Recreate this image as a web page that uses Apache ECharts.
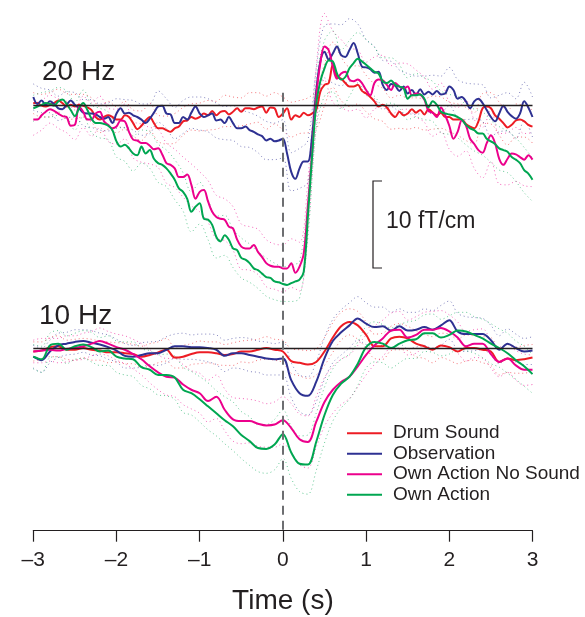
<!DOCTYPE html>
<html>
<head>
<meta charset="utf-8">
<script src="https://cdn.jsdelivr.net/npm/echarts@6/dist/echarts.min.js"></script>
<style>
html, body { margin: 0; padding: 0; background: #fff; }
#main { width: 585px; height: 617px; }
</style>
</head>
<body>
<div id="main"></div>
<script>
// names / colours
var names = ['Drum Sound', 'Observation', 'Own Action No Sound', 'Own Action'];
var colors = ['#ED1C24', '#2E3192', '#EC008C', '#00A651'];
var xTicks = [-3, -2, -1, 0, 1, 2, 3];

// time grids: 20 Hz traces every 0.05 s, 10 Hz traces (and all CI) every 0.1 s
var t20 = [];
for (var i = 0; i <= 120; i++) t20.push(+(-3 + i * 0.05).toFixed(2));
var t10 = [];
for (var i = 0; i <= 60; i++) t10.push(+(-3 + i * 0.1).toFixed(1));

// 20 Hz means (fT/cm)
var drum20 = [0.3,0.3,0.0,-0.1,0.1,0.3,0.6,0.3,-0.1,0.1,-0.1,0.1,0.0,-0.2,-0.5,-1.3,-1.6,-1.3,-1.1,-1.3,-1.6,-1.6,-1.1,-1.3,-2.0,-2.7,-2.3,-1.7,-1.3,-2.0,-2.6,
  -2.6,-2.8,-3.0,-2.6,-2.4,-1.8,-1.7,-1.3,-1.5,-1.3,-0.9,-1.1,-0.6,-1.1,-0.7,-0.6,-1.0,-0.7,-0.3,-0.7,-0.3,-0.3,-0.4,-0.2,-0.1,-0.8,-0.2,-0.3,-1.3,-0.9,
  -0.3,-1.6,-1.1,-1.3,-0.8,-1.1,-0.9,-0.5,1.6,2.4,2.6,4.7,3.3,3.1,2.6,2.2,2.2,2.4,1.7,1.4,1.0,0.5,-0.1,0.1,-0.2,-0.9,-1.3,-0.7,-1.1,-0.9,
  -0.4,-0.8,-0.5,-1.0,-0.4,-0.8,-1.1,-0.8,-1.3,-1.3,-1.6,-1.6,-1.6,-2.1,-2.4,-2.6,-1.8,-0.3,-0.1,-0.3,-1.1,-1.5,-2.0,-2.5,-2.2,-1.7,-1.6,-1.8,-2.2,-2.4];
var obs20 = [1.0,0.2,0.6,0.1,0.5,0.2,-0.3,-0.4,0.1,0.6,0.1,-0.3,-0.8,-0.9,-0.9,-1.0,-1.3,-1.5,-1.3,-2.0,-0.9,-0.3,-0.9,-0.8,-1.1,-1.3,-1.6,-2.0,-1.5,-0.8,-0.1,
  0.0,-0.9,-1.0,-2.0,-2.0,-1.3,-1.6,-0.8,-0.1,-0.9,-1.3,-1.1,-0.9,-1.7,-1.6,-2.0,-1.3,-2.0,-2.6,-2.6,-2.4,-2.8,-3.0,-3.3,-3.5,-4.0,-3.8,-4.1,-4.0,-3.8,
  -5.5,-7.6,-8.4,-7.2,-6.4,-6.4,-3.6,1.6,5.1,6.2,5.3,6.0,6.8,5.8,5.6,6.4,7.2,6.0,4.5,4.4,4.2,3.8,3.9,2.4,1.8,2.5,2.3,1.7,2.2,1.4,
  1.8,1.2,1.9,1.3,1.6,1.3,1.7,1.3,1.4,2.2,1.8,0.8,1.0,0.5,-0.3,0.5,0.8,0.3,-0.5,-1.3,-1.8,-0.9,0.0,-0.7,-1.2,-1.5,-0.9,0.5,-0.2,-1.3];
var noSound20 = [-1.6,-1.6,-1.1,-0.7,-0.4,-0.6,-0.9,-1.2,-1.3,-2.3,-2.2,-0.1,-0.7,-1.6,-1.6,-0.9,-0.7,-1.8,-2.2,-2.6,-2.4,-1.7,-1.8,-3.0,-3.9,-4.0,-4.3,-4.3,-4.6,-5.0,-4.9,
  -5.6,-6.6,-6.8,-7.2,-8.2,-8.2,-7.9,-9.1,-10.7,-9.9,-9.7,-11.0,-12.2,-12.8,-13.0,-13.1,-13.9,-14.1,-15.4,-16.2,-16.4,-16.4,-16.0,-16.8,-17.4,-18.1,-18.4,-18.5,-18.5,-18.7,
  -18.7,-18.1,-19.2,-18.5,-17.0,-11.6,-5.5,1.0,4.9,6.8,6.4,4.5,3.1,3.7,3.9,3.0,2.8,3.0,2.6,1.8,1.2,2.6,3.0,2.9,2.4,1.8,2.6,2.2,2.0,2.2,
  1.2,1.4,1.3,0.7,-0.6,-0.8,-1.3,-0.2,-1.1,-2.3,-3.8,-3.0,-1.7,-2.3,-3.8,-4.4,-5.1,-5.4,-4.3,-3.4,-4.3,-6.1,-6.8,-6.1,-5.5,-5.6,-5.9,-6.2,-5.7,-6.2];
var own20 = [-0.3,-0.1,0.1,0.3,0.2,0.0,0.5,0.7,0.2,-0.5,-1.2,-0.3,0.3,-0.5,-1.5,-2.0,-2.0,-2.1,-2.3,-2.8,-4.1,-4.7,-4.5,-4.9,-5.5,-5.7,-4.7,-5.5,-5.1,-6.1,-6.6,
  -6.8,-7.2,-7.8,-8.5,-9.5,-9.9,-10.7,-12.2,-11.6,-11.2,-13.0,-13.1,-13.7,-15.1,-15.6,-14.9,-15.4,-16.4,-16.6,-17.5,-17.7,-18.1,-18.7,-18.9,-19.3,-19.7,-19.8,-20.2,-20.3,-20.5,
  -20.6,-20.4,-20.2,-20.0,-19.1,-12.8,-5.9,0.1,2.8,4.3,5.2,5.1,3.7,3.0,3.3,4.3,4.9,5.4,5.1,4.7,4.3,3.9,3.7,2.8,2.6,2.9,2.4,2.2,2.0,0.8,
  1.2,1.2,1.3,0.8,-0.2,0.5,0.1,-0.7,-0.9,-1.0,-1.1,-1.3,-1.6,-2.2,-2.6,-2.8,-3.2,-3.2,-3.8,-4.1,-4.4,-4.9,-5.1,-5.3,-5.9,-6.2,-6.6,-7.4,-7.8,-8.5];

// 20 Hz confidence half-widths (every 0.1 s)
var drum20ci = [1.2,1.3,1.4,1.3,1.5,1.4,1.3,1.4,1.5,1.6,1.5,1.6,1.5,1.7,1.6,1.5,1.6,1.7,1.6,1.5,1.6,1.7,1.6,1.8,1.7,1.6,1.8,1.7,1.9,1.8,1.9,
  2.0,1.9,2.0,2.2,2.4,2.6,2.5,2.3,2.2,2.1,2.0,1.9,1.8,1.9,1.8,1.7,1.8,1.9,1.8,1.7,1.8,1.9,1.8,1.7,1.8,1.9,2.0,1.9,1.8,1.9];
var obs20ci = [1.5,1.4,1.3,1.4,1.5,1.4,1.5,1.6,1.5,1.6,1.7,1.6,1.7,1.8,1.7,1.8,1.7,1.8,1.9,1.8,1.9,1.9,2.0,1.9,2.0,2.1,2.0,2.1,2.2,2.1,2.2,
  2.2,2.3,2.4,2.6,3.0,3.4,3.5,3.6,3.4,3.2,3.0,2.8,2.6,2.4,2.3,2.2,2.1,2.2,2.1,2.2,2.2,2.1,2.0,2.1,2.2,2.1,2.2,2.3,2.2,2.3];
var noSound20ci = [1.8,1.7,1.6,1.7,1.8,1.7,1.8,1.9,1.8,1.9,2.0,2.0,2.1,2.2,2.1,2.2,2.3,2.2,2.3,2.4,2.3,2.4,2.5,2.4,2.5,2.6,2.5,2.6,2.7,2.6,2.7,
  2.8,2.8,3.0,3.3,3.8,4.1,3.9,3.6,3.4,3.2,3.0,2.9,2.8,2.7,2.6,2.7,2.6,2.7,2.8,2.7,2.8,2.9,2.8,2.9,3.0,2.9,3.0,3.1,3.0,3.1];
var own20ci = [1.5,1.4,1.5,1.6,1.5,1.6,1.5,1.6,1.7,1.6,1.8,1.9,2.0,1.9,2.1,2.2,2.1,2.3,2.2,2.3,2.4,2.3,2.4,2.3,2.2,2.3,2.2,2.1,2.2,2.1,2.0,
  2.1,2.1,2.3,2.8,3.2,3.5,3.4,3.2,3.0,2.9,2.8,2.7,2.6,2.5,2.4,2.5,2.4,2.3,2.4,2.3,2.4,2.3,2.4,2.5,2.4,2.5,2.4,2.5,2.6,2.5];

// 10 Hz means (fT/cm)
var drum10 = [-0.4,-0.3,0.1,0.2,-0.2,-0.2,0.0,-0.2,-0.3,-0.5,-0.5,-0.6,-0.7,-1.0,-0.8,-0.5,-0.2,-1.1,-1.0,-0.7,-0.5,-0.5,-0.6,-0.8,-0.7,-0.4,-0.4,-0.2,0.0,-0.2,-0.4,
  -1.5,-1.7,-1.9,-1.6,-0.4,1.2,2.5,3.0,2.6,1.5,0.2,0.2,1.1,1.3,1.1,0.5,0.2,-0.2,0.3,0.1,-0.4,0.0,0.0,-0.2,-0.4,-1.6,-1.2,-1.4,-1.3,-1.1];
var obs10 = [-1.0,-1.4,-0.4,0.3,0.5,0.7,0.8,0.6,0.4,0.1,-0.3,-0.9,-1.0,-0.8,-0.6,-0.6,-0.2,0.2,0.2,0.1,0.1,0.0,-0.2,-0.9,-0.6,-0.6,-0.8,-1.0,-1.2,-1.3,-1.2,
  -3.7,-5.2,-5.5,-3.9,-1.2,0.8,1.8,2.6,3.4,2.8,2.4,2.5,2.0,2.5,2.0,2.1,2.4,2.1,2.6,3.2,1.9,1.6,1.6,1.6,0.9,-0.2,0.5,0.0,-0.4,-0.3];
var noSound10 = [-0.4,-0.3,-0.2,-0.3,-0.1,0.0,0.2,0.5,0.8,0.5,0.1,-0.2,-0.7,-1.3,-2.1,-2.8,-3.3,-3.4,-4.2,-4.8,-5.2,-6.1,-5.6,-7.1,-8.2,-8.4,-8.4,-8.7,-8.9,-8.8,-8.3,
  -9.2,-10.5,-10.8,-8.5,-6.2,-4.8,-3.9,-3.3,-2.1,-0.8,0.3,1.1,2.0,2.1,1.2,1.5,2.1,2.1,2.3,1.9,1.2,0.2,0.5,0.5,-0.7,-1.6,-1.2,-2.0,-2.5,-2.5];
var own10 = [-1.0,-1.3,0.3,0.5,-0.2,0.2,0.4,0.1,-0.4,-0.3,-1.0,-1.2,-1.3,-2.2,-2.5,-3.1,-3.1,-3.4,-4.8,-5.2,-5.9,-6.7,-7.5,-8.3,-9.0,-10.0,-10.7,-11.5,-11.6,-11.1,-9.9,
  -12.0,-13.3,-13.4,-10.8,-7.7,-5.4,-4.1,-3.3,-1.8,0.1,0.7,0.5,0.0,0.5,0.9,1.0,1.7,1.7,1.2,1.5,2.0,1.9,1.5,1.1,0.5,0.0,-0.6,-1.4,-2.1,-3.0];

// 10 Hz confidence half-widths
var drum10ci = [1.1,1.0,1.1,1.2,1.1,1.2,1.1,1.2,1.1,1.2,1.1,1.2,1.1,1.2,1.3,1.2,1.3,1.2,1.3,1.2,1.3,1.2,1.3,1.2,1.3,1.2,1.3,1.2,1.3,1.2,1.3,
  1.4,1.5,1.6,1.5,1.6,1.7,1.6,1.5,1.6,1.5,1.4,1.5,1.4,1.5,1.4,1.5,1.4,1.5,1.4,1.5,1.4,1.5,1.4,1.5,1.6,1.5,1.6,1.5,1.6,1.5];
var obs10ci = [1.3,1.4,1.3,1.4,1.3,1.4,1.3,1.4,1.3,1.4,1.3,1.4,1.3,1.4,1.3,1.4,1.5,1.4,1.5,1.4,1.5,1.6,1.7,1.8,1.7,1.8,1.9,1.8,1.9,1.8,1.9,
  2.0,2.1,2.2,2.3,2.4,2.5,2.6,2.6,2.5,2.4,2.3,2.2,2.1,2.0,2.1,2.0,2.1,2.2,2.3,2.2,2.1,2.0,1.9,1.8,1.7,1.6,1.7,1.6,1.5,1.6];
var noSound10ci = [1.3,1.4,1.3,1.4,1.5,1.4,1.5,1.4,1.5,1.4,1.5,1.6,1.7,1.8,1.9,2.0,2.1,2.2,2.3,2.2,2.3,2.4,2.5,2.4,2.5,2.6,2.5,2.6,2.5,2.6,2.7,
  2.8,2.9,3.0,2.9,2.8,2.7,2.6,2.5,2.4,2.3,2.2,2.1,2.0,2.1,2.0,2.1,2.0,2.1,2.0,1.9,1.8,1.7,1.6,1.7,1.6,1.7,1.6,1.7,1.8,1.7];
var own10ci = [1.4,1.5,1.4,1.5,1.6,1.5,1.6,1.7,1.6,1.7,1.8,1.9,2.0,2.1,2.2,2.3,2.4,2.5,2.6,2.5,2.6,2.7,2.6,2.7,2.8,2.7,2.8,2.7,2.8,2.9,2.8,
  3.0,3.2,3.4,3.3,3.2,3.0,2.8,2.6,2.5,2.4,2.3,2.2,2.3,2.2,2.1,2.2,2.1,2.2,2.1,2.2,2.1,2.2,2.1,2.2,2.3,2.2,2.3,2.2,2.3,2.2];

var means20 = [drum20, obs20, noSound20, own20];
var cis20 = [drum20ci, obs20ci, noSound20ci, own20ci];
var means10 = [drum10, obs10, noSound10, own10];
var cis10 = [drum10ci, obs10ci, noSound10ci, own10ci];

var FONT = '"Liberation Sans", Arial, Helvetica, sans-serif';
var INK = '#231f20';

function meanLine(k, times, vals, g) {
    return {
        name: names[k],
        type: 'line',
        xAxisIndex: g,
        yAxisIndex: g,
        data: times.map(function (t, i) { return [t, vals[i]]; }),
        symbol: 'none',
        smooth: 0.35,
        lineStyle: { color: colors[k], width: 2 },
        itemStyle: { color: colors[k] },
        z: 4
    };
}

function ciLine(k, vals, ci, step, g, sign) {
    return {
        name: names[k] + (sign > 0 ? ' upper' : ' lower'),
        type: 'line',
        xAxisIndex: g,
        yAxisIndex: g,
        data: t10.map(function (t, i) { return [t, vals[i * step] + sign * ci[i]]; }),
        symbol: 'none',
        smooth: 0.35,
        lineStyle: { color: colors[k], width: 1, type: [1, 3], opacity: 0.6 },
        z: 2
    };
}

var series = [];
for (var k = 0; k < 4; k++) {
    series.push(ciLine(k, means20[k], cis20[k], 2, 0, 1));
    series.push(ciLine(k, means20[k], cis20[k], 2, 0, -1));
    series.push(ciLine(k, means10[k], cis10[k], 1, 1, 1));
    series.push(ciLine(k, means10[k], cis10[k], 1, 1, -1));
}
for (var k = 0; k < 4; k++) {
    series.push(meanLine(k, t20, means20[k], 0));
    series.push(meanLine(k, t10, means10[k], 1));
}

// baselines and the dashed line at t = 0
function refLines(g, top, bottom) {
    return {
        type: 'line',
        xAxisIndex: g,
        yAxisIndex: g,
        data: [],
        silent: true,
        markLine: {
            symbol: 'none',
            silent: true,
            label: { show: false },
            data: [
                [{ coord: [-3, 0], lineStyle: { color: INK, width: 1.3, type: 'solid' } }, { coord: [3, 0] }],
                [{ coord: [0, top], lineStyle: { color: '#6d6e71', width: 2, type: [9, 6] } }, { coord: [0, bottom] }]
            ]
        },
        z: 3
    };
}
series.push(refLines(0, 1.5, -21.6));
series.push(refLines(1, 6, -21));

var chart = echarts.init(document.getElementById('main'));
var option = {
    animation: false,
    backgroundColor: '#fff',
    textStyle: { fontFamily: FONT },
    grid: [
        { left: 33.3, right: 52.5, top: 1.3, height: 304.5 },
        { left: 33.3, right: 52.5, top: 287.1, height: 243.6 }
    ],
    xAxis: [
        { gridIndex: 0, type: 'value', min: -3, max: 3, show: false },
        {
            gridIndex: 1, type: 'value', min: -3, max: 3, interval: 1,
            axisLine: { show: true, onZero: false, lineStyle: { color: INK, width: 1.2 } },
            axisTick: { show: true, length: 11, lineStyle: { color: INK, width: 1.2 } },
            splitLine: { show: false },
            axisLabel: {
                fontSize: 21, color: INK, margin: 19, fontFamily: FONT,
                formatter: function (v) { return v < 0 ? '\u2013' + Math.abs(v) : String(v); }
            },
            name: 'Time (s)',
            nameLocation: 'middle',
            nameGap: 57,
            nameTextStyle: { fontSize: 28, color: INK, fontFamily: FONT }
        }
    ],
    yAxis: [
        { gridIndex: 0, type: 'value', min: -23, max: 12, show: false },
        { gridIndex: 1, type: 'value', min: -21, max: 7, show: false }
    ],
    legend: {
        data: names,
        orient: 'vertical',
        left: 347,
        top: 423,
        padding: 0,
        itemGap: 0,
        itemWidth: 35,
        itemHeight: 2,
        icon: 'rect',
        selectedMode: false,
        textStyle: { fontSize: 19, color: INK, lineHeight: 20.5, padding: [0, 0, 0, 6], fontFamily: FONT }
    },
    graphic: [
        { type: 'text', left: 42, top: 58.5, style: { text: '20 Hz', font: '28px ' + FONT, fill: INK } },
        { type: 'text', left: 39, top: 302.5, style: { text: '10 Hz', font: '28px ' + FONT, fill: INK } },
        { type: 'text', left: 386, top: 210, style: { text: '10 fT/cm', font: '23px ' + FONT, fill: INK } },
        {
            type: 'polyline',
            shape: { points: [[382, 181], [373, 181], [373, 268], [382, 268]] },
            style: { stroke: INK, lineWidth: 1.2, fill: null }
        }
    ],
    series: series
};
chart.setOption(option);
</script>
</body>
</html>
